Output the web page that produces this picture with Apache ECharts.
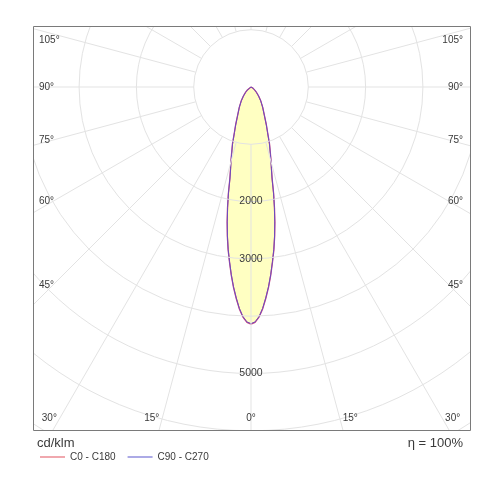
<!DOCTYPE html>
<html><head><meta charset="utf-8">
<script src="https://cdn.jsdelivr.net/npm/echarts@6/dist/echarts.min.js"></script>
<style>html,body{margin:0;padding:0;background:#fff}#c{width:500px;height:500px}</style>
</head><body><div id="c"></div>
<script>
// ---- data ----
const gammaAngles = [0, 1, 2, 3, 4, 5, 6, 7, 8, 9, 10, 11, 12, 13, 14, 15, 16, 18, 20, 22, 25, 30, 35, 40, 45, 50, 60, 70, 80, 90];
const c0c180  = [4140, 4110, 4020, 3880, 3700, 3510, 3300, 3080, 2870, 2640, 2400, 2150, 1900, 1640, 1480, 1360, 1240, 1050, 850, 720, 560, 410, 300, 210, 140, 90, 40, 15, 5, 0];
const c90c270 = [4130, 4100, 4010, 3870, 3690, 3500, 3290, 3070, 2860, 2630, 2390, 2140, 1890, 1630, 1470, 1350, 1230, 1040, 845, 715, 555, 405, 295, 205, 135, 88, 38, 14, 5, 0];
const radialLabelTicks = [2000, 3000, 5000];
const sideAngleTicks = [45, 60, 75, 90, 105];
const bottomAngleTicks = [0, 15, 30];
const seriesNames = ['C0 - C180', 'C90 - C270'];
const unitText = 'cd/klm';
const efficiencyText = 'η = 100%';

// ---- layout ----
const CX = 251, CY = 87, PX_PER_1000 = 57.3, RMAX = 7000;
const RPX = RMAX / 1000 * PX_PER_1000;
const FRAME = {x: 33, y: 26, w: 437, h: 404};
const FONT = '"Liberation Sans", Arial, sans-serif';
const GRID = '#e3e3e3';
const LABEL_COLOR = '#3a3a3a';

function curve(vals) {
  const pts = [];
  for (let i = gammaAngles.length - 1; i >= 0; i--) pts.push([vals[i], gammaAngles[i]]);
  for (let i = 1; i < gammaAngles.length; i++) pts.push([vals[i], 360 - gammaAngles[i]]);
  return pts;
}

const toUnits = px => px / PX_PER_1000 * 1000;
const sideDist = 198;          // px from centre to the column where side labels sit
const sidePad = 14;            // label edge sits this far outward from that column
const bottomDist = 418 - CY;   // px from centre to bottom label row
const rad = a => a * Math.PI / 180;
// each item: [radius, angle, text, align, dx, dy]
const degLabels = [];
sideAngleTicks.forEach(a => {
  const d = toUnits(sideDist / Math.sin(rad(a)));
  const dy = a > 90 ? 6 : 0;
  degLabels.push([d, a, a + '°', 'left', -sidePad, dy]);
  degLabels.push([d, 360 - a, a + '°', 'right', sidePad, dy]);
});
bottomAngleTicks.forEach(a => {
  const d = toUnits(bottomDist / Math.cos(rad(a)));
  if (a === 0) {
    degLabels.push([d, 0, a + '°', 'center', 0, 0]);
  } else {
    degLabels.push([d, a, a + '°', 'right', -3, 0]);
    degLabels.push([d, 360 - a, a + '°', 'left', 3, 0]);
  }
});

const chart = echarts.init(document.getElementById('c'), null, {renderer: 'canvas'});
const option = {
  animation: false,
  backgroundColor: '#fff',
  textStyle: {fontFamily: FONT},
  polar: [
    {center: [CX, CY], radius: [0, RPX]},
    {center: [CX, CY], radius: [PX_PER_1000, 440]}
  ],
  angleAxis: [
    {polarIndex: 0, type: 'value', min: 0, max: 360, startAngle: -90, clockwise: true,
     axisLine: {show: false}, axisTick: {show: false}, axisLabel: {show: false}, splitLine: {show: false}},
    {polarIndex: 1, type: 'value', min: 0, max: 360, interval: 15, startAngle: -90, clockwise: true, z: 3,
     axisLine: {show: false}, axisTick: {show: false}, axisLabel: {show: false},
     splitLine: {show: true, lineStyle: {color: GRID, width: 1}}}
  ],
  radiusAxis: [
    {polarIndex: 0, type: 'value', min: 0, max: RMAX, interval: 1000, z: 3,
     axisLine: {show: false}, axisTick: {show: false},
     splitLine: {show: true, lineStyle: {color: GRID, width: 1}},
     axisLabel: {margin: 0, align: 'center', verticalAlign: 'middle', color: LABEL_COLOR, fontSize: 10.5, fontFamily: FONT,
       formatter: v => radialLabelTicks.includes(v) ? String(v) : ''}},
    {polarIndex: 1, type: 'value', min: 0, max: 1, show: false}
  ],
  legend: {
    left: 35, top: 447, itemWidth: 25, itemHeight: 2, icon: 'rect', itemGap: 12, selectedMode: false, z: 120,
    textStyle: {fontSize: 10, color: LABEL_COLOR, fontFamily: FONT},
    data: [
      {name: seriesNames[0], itemStyle: {color: '#f0a8ae'}},
      {name: seriesNames[1], itemStyle: {color: '#acaae6'}}
    ]
  },
  series: [
    {type: 'line', name: seriesNames[0], coordinateSystem: 'polar', polarIndex: 0, data: curve(c0c180),
     symbol: 'none', smooth: false, z: 2, silent: true,
     lineStyle: {color: '#d04a80', width: 1.3}, areaStyle: {color: '#ffffc2', opacity: 1}},
    {type: 'line', name: seriesNames[1], coordinateSystem: 'polar', polarIndex: 0, data: curve(c90c270),
     symbol: 'none', smooth: false, z: 2, silent: true,
     lineStyle: {color: '#6a4cc0', width: 1}},
    {type: 'custom', name: 'deg', coordinateSystem: 'polar', polarIndex: 0, data: degLabels, z: 4, silent: true,
     renderItem: (params, api) => {
       const item = degLabels[params.dataIndex];
       const p = api.coord([api.value(0), api.value(1)]);
       return {type: 'text', x: p[0] + item[4], y: p[1] + item[5],
         style: {text: item[2], fill: LABEL_COLOR, font: '10px ' + FONT, align: item[3], verticalAlign: 'middle'}};
     }}
  ],
  graphic: [
    {type: 'rect', z: 100, shape: {x: 0, y: 0, width: 500, height: FRAME.y}, style: {fill: '#fff'}},
    {type: 'rect', z: 100, shape: {x: 0, y: 0, width: FRAME.x, height: 500}, style: {fill: '#fff'}},
    {type: 'rect', z: 100, shape: {x: FRAME.x + FRAME.w, y: 0, width: 40, height: 500}, style: {fill: '#fff'}},
    {type: 'rect', z: 100, shape: {x: 0, y: FRAME.y + FRAME.h, width: 500, height: 80}, style: {fill: '#fff'}},
    {type: 'rect', z: 101, shape: {x: FRAME.x + 0.5, y: FRAME.y + 0.5, width: FRAME.w, height: FRAME.h},
     style: {fill: 'none', stroke: '#7a7a7a', lineWidth: 1}},
    {type: 'text', z: 110, x: 37, y: 443, style: {text: unitText, fill: LABEL_COLOR, font: '13px ' + FONT, verticalAlign: 'middle'}},
    {type: 'text', z: 110, x: 463, y: 443, style: {text: efficiencyText, fill: LABEL_COLOR, font: '13px ' + FONT, align: 'right', verticalAlign: 'middle'}}
  ]
};
chart.setOption(option);
</script>
</body></html>
